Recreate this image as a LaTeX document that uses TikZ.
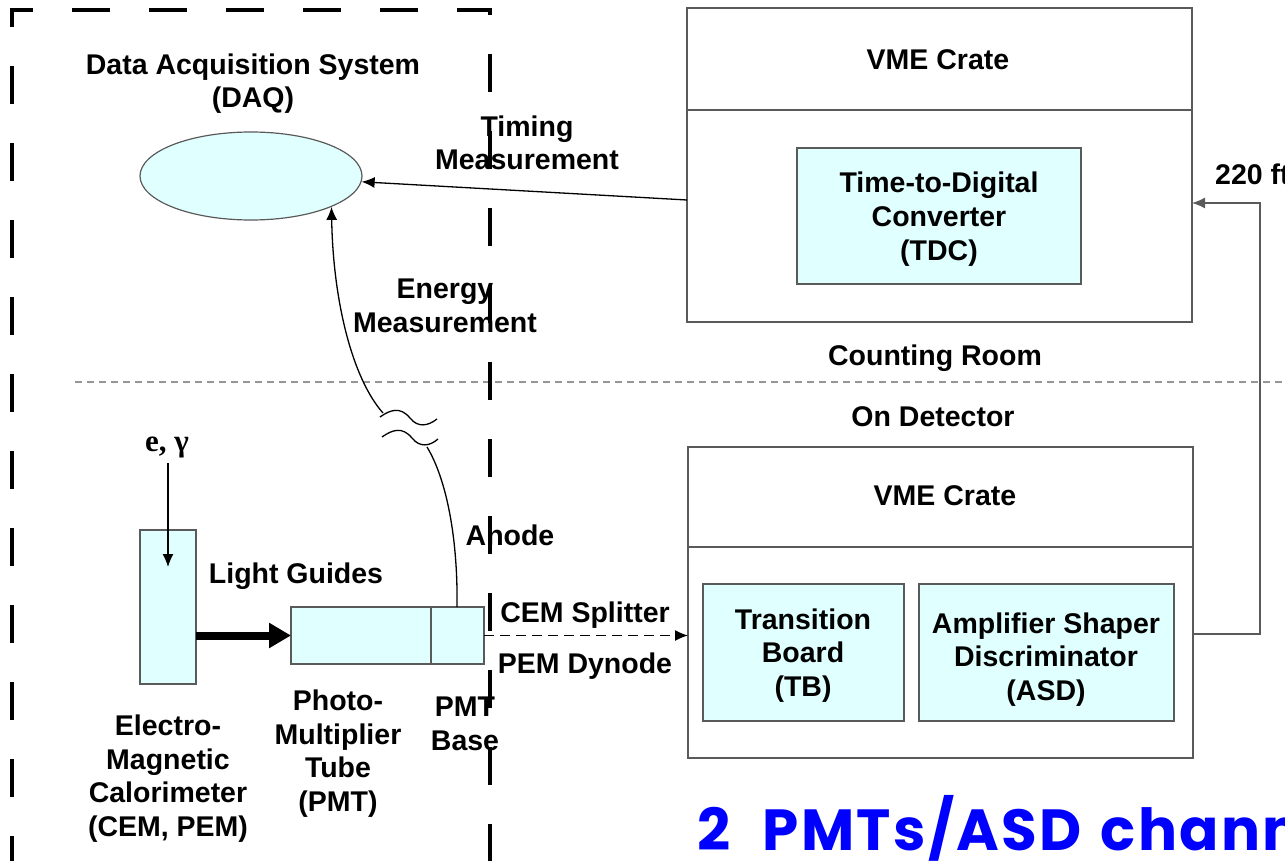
\documentclass[tikz,border=0pt]{standalone}
\usepackage{fontspec}
\setmainfont{Liberation Sans}
\newfontfamily\serifbf{Liberation Serif}
\newfontfamily\comic{Poppins}[LetterSpace=4]
\usetikzlibrary{arrows.meta,calc,shapes.geometric}
\definecolor{cyanfill}{RGB}{224,255,255}
\definecolor{boxline}{RGB}{90,90,90}
\definecolor{sepline}{RGB}{150,150,150}
\definecolor{bluetext}{RGB}{0,0,255}
\begin{document}
\begin{tikzpicture}[x=1pt,y=-1pt,
  lbl/.style={font=\fontsize{28.5}{33.5}\selectfont\bfseries, align=center, inner sep=0pt, anchor=base},
  crate/.style={draw=boxline, line width=1.4pt, inner sep=0pt, outer sep=0pt},
  cbox/.style={draw=boxline, fill=cyanfill, line width=1.4pt, inner sep=0pt, outer sep=0pt},
  arr/.style={-{Latex[length=13pt,width=11pt]}, line width=1.3pt},
  frame/.style={line width=4.5pt, black}
]
\useasboundingbox (0,0) rectangle (1285,861);
\clip (0,0) rectangle (1285,861);
\fill[white] (0,0) rectangle (1285,861);

% ---------- counting room ----------
\node[crate, minimum width=505pt, minimum height=314pt] (crateT) at (939.5,165) {};
\draw[boxline, line width=1.4pt] (crateT.west |- {(0,110)}) -- (crateT.east |- {(0,110)});
\node[lbl] (vmeT) at (938,70) {VME Crate};
\node[cbox, minimum width=284pt, minimum height=136pt] (tdc) at (939,216) {};
\node[lbl] (tdct) at (939,260) {Time-to-Digital\\Converter\\(TDC)};

\node[draw=boxline, fill=cyanfill, line width=1.2pt, ellipse, minimum width=222pt, minimum height=88pt, inner sep=0pt] (daq) at (251,176) {};
\node[lbl] (daqt) at (253,108) {Data Acquisition System\\(DAQ)};

\coordinate (tin) at (crateT.west |- {(0,200)});
\draw[arr] (tin) -- (daq.-3);
\node[lbl] (timing) at (527,170) {Timing\\Measurement};

\node[lbl] (cr) at (935,365) {Counting Room};
\draw[sepline, line width=1.3pt, dash pattern=on 7pt off 5pt] (75,382) -- (1285,382);
\node[lbl] (od) at (933,426) {On Detector};

% ---------- on detector ----------
\node[crate, minimum width=505pt, minimum height=311pt] (crateB) at (940.5,602.5) {};
\draw[boxline, line width=1.4pt] (crateB.west |- {(0,547)}) -- (crateB.east |- {(0,547)});
\node[lbl] (vmeB) at (945,505) {VME Crate};
\node[cbox, minimum width=201pt, minimum height=137pt] (tb) at (803.5,652.5) {};
\node[lbl] (tbt) at (803,696) {Transition\\Board\\(TB)};
\node[cbox, minimum width=255pt, minimum height=137pt] (asd) at (1046.5,652.5) {};
\node[lbl] (asdt) at (1046,700) {Amplifier Shaper\\Discriminator\\(ASD)};

% return cable
\coordinate (rc1) at (1260,634);
\coordinate (rc2) at (1260,203);
\draw[boxline, line width=1.4pt, -{Latex[length=13pt,width=11pt]}]
  (crateB.east |- rc1) -- (rc1) -- (rc2) -- (crateT.east |- rc2);
\node[lbl, anchor=base west] (ft) at (1215,185) {220 ft};

% calorimeter
\node[cbox, minimum width=56pt, minimum height=154pt] (cal) at (168,607) {};
\node[font=\fontsize{31}{36}\selectfont\serifbf\bfseries, inner sep=0pt, anchor=base] (eg) at (167,451) {e, γ};
\coordinate (egin) at (168,567);
\draw[arr, line width=1.2pt] (168,463) -- (egin);
\node[lbl] (calt) at (168,836) {Electro-\\Magnetic\\Calorimeter\\(CEM, PEM)};

% PMT
\node[cbox, minimum width=140pt, minimum height=57pt] (pmt) at (361,635.5) {};
\node[cbox, minimum width=53pt, minimum height=57pt] (base) at (457.5,635.5) {};
\draw[line width=8pt, -{Triangle[length=22pt,width=24pt]}] (cal.east |- pmt.west) -- (pmt.west);
\node[lbl] (lg) at (296,583) {Light Guides};
\node[lbl] (pmtt) at (338,811) {Photo-\\Multiplier\\Tube\\(PMT)};
\node[lbl] (baset) at (465,750) {PMT\\Base};

% splitter
\draw[line width=1.3pt, dash pattern=on 10pt off 6pt, -{Latex[length=13pt,width=11pt]}] (base.east) -- (crateB.west |- base.east);
\node[lbl] (cem) at (585,622) {CEM Splitter};
\node[lbl] (pem) at (585,673) {PEM Dynode};

% energy cable with break
\coordinate (an) at (457,607);
\coordinate (brk1) at (427,447);
\coordinate (brk2) at (383,413);
\draw[line width=1.3pt] (an) .. controls (458,540) and (447,480) .. (brk1);
\draw[arr] (brk2) .. controls (352,378) and (333,300) .. (daq.-21);
\draw[line width=1.3pt] (380,417) .. controls (390,410) and (400,406) .. (410,418)
   .. controls (418,428) and (428,426) .. (437,419);
\draw[line width=1.3pt] (382,437) .. controls (392,430) and (402,426) .. (412,438)
   .. controls (420,448) and (430,446) .. (438,439);
\node[lbl] (en) at (445,332) {Energy\\Measurement};
\node[lbl] (anode) at (510,545) {Anode};

% blue remark
\node[font=\fontsize{58}{64}\selectfont\comic\bfseries, text=bluetext, inner sep=0pt, anchor=base west] (remark) at (697,850) {2\hspace{18pt} PMTs/ASD\hspace{4pt} chann};

% ---------- thick dashed frame ----------
\draw[frame, dash pattern=on 38pt off 39pt] (12,27) -- (12,10) -- (490,10) -- (490,880);
\draw[frame, dash pattern=on 38pt off 39pt] (12,66) -- (12,880);
\end{tikzpicture}
\end{document}
